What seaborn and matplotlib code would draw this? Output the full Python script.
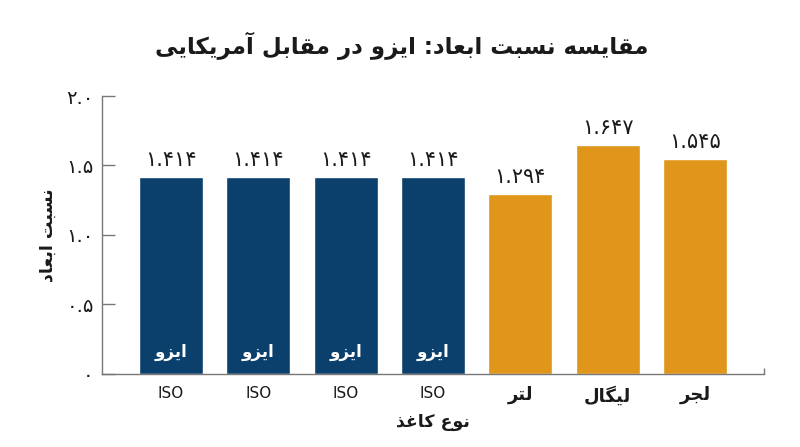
import matplotlib
matplotlib.use("Agg")
import matplotlib.pyplot as plt
import seaborn as sns
import pandas as pd

# ---------------- data ----------------
category_keys = ["ISO-1", "ISO-2", "ISO-3", "ISO-4", "Letter", "Legal", "Ledger"]
tick_labels = ["ISO", "ISO", "ISO", "ISO", "لتر", "لیگال", "لجر"]
groups = ["ISO", "ISO", "ISO", "ISO", "US", "US", "US"]
ratios = [1.414, 1.414, 1.414, 1.414, 1.294, 1.647, 1.545]
inbar_labels = ["ایزو", "ایزو", "ایزو", "ایزو", "", "", ""]
y_ticks = [0, 0.5, 1.0, 1.5, 2.0]
y_tick_labels = ["0", "0.5", "1.0", "1.5", "2.0"]

title_text = "مقایسه نسبت ابعاد: ایزو در مقابل آمریکایی"
ylabel_text = "نسبت ابعاد"
xlabel_text = "نوع کاغذ"

BLUE = "#0b3f6c"
ORANGE = "#e0951b"
TEXT = "#1a1a1a"
AXIS = "#777777"

# ---------------- minimal Arabic/Persian shaping ----------------
FORMS = {
    "ا": ("\uFE8D", "\uFE8E", None, None),
    "آ": ("\uFE81", "\uFE82", None, None),
    "ب": ("\uFE8F", "\uFE90", "\uFE91", "\uFE92"),
    "ت": ("\uFE95", "\uFE96", "\uFE97", "\uFE98"),
    "ج": ("\uFE9D", "\uFE9E", "\uFE9F", "\uFEA0"),
    "د": ("\uFEA9", "\uFEAA", None, None),
    "ذ": ("\uFEAB", "\uFEAC", None, None),
    "ر": ("\uFEAD", "\uFEAE", None, None),
    "ز": ("\uFEAF", "\uFEB0", None, None),
    "س": ("\uFEB1", "\uFEB2", "\uFEB3", "\uFEB4"),
    "ع": ("\uFEC9", "\uFECA", "\uFECB", "\uFECC"),
    "غ": ("\uFECD", "\uFECE", "\uFECF", "\uFED0"),
    "ق": ("\uFED5", "\uFED6", "\uFED7", "\uFED8"),
    "ل": ("\uFEDD", "\uFEDE", "\uFEDF", "\uFEE0"),
    "م": ("\uFEE1", "\uFEE2", "\uFEE3", "\uFEE4"),
    "ن": ("\uFEE5", "\uFEE6", "\uFEE7", "\uFEE8"),
    "ه": ("\uFEE9", "\uFEEA", "\uFEEB", "\uFEEC"),
    "و": ("\uFEED", "\uFEEE", None, None),
    "ی": ("\uFBFC", "\uFBFD", "\uFBFE", "\uFBFF"),
    "ک": ("\uFB8E", "\uFB8F", "\uFB90", "\uFB91"),
    "گ": ("\uFB92", "\uFB93", "\uFB94", "\uFB95"),
}


def dual(c):
    return c in FORMS and FORMS[c][2] is not None


def shape(text):
    out = []
    n = len(text)
    for i, c in enumerate(text):
        if c not in FORMS:
            out.append(c)
            continue
        prev_c = text[i - 1] if i > 0 else ""
        next_c = text[i + 1] if i + 1 < n else ""
        join_prev = dual(prev_c)
        join_next = dual(c) and next_c in FORMS
        iso, fin, ini, med = FORMS[c]
        if join_prev and join_next:
            out.append(med)
        elif join_prev:
            out.append(fin)
        elif join_next:
            out.append(ini)
        else:
            out.append(iso)
    return "".join(reversed(out))


FA_DIGITS = str.maketrans("0123456789", "۰۱۲۳۴۵۶۷۸۹")


def fa_num(s):
    return s.translate(FA_DIGITS)


# ---------------- plot ----------------
sns.set_theme(style="white")
plt.rcParams["font.family"] = ["DejaVu Sans"]

df = pd.DataFrame({"key": category_keys, "ratio": ratios, "group": groups})

fig = plt.figure(figsize=(8.0, 4.47), dpi=100)
ax = fig.add_axes([0.1275, 0.1644, 0.8275, 0.6208])

sns.barplot(
    data=df, x="key", y="ratio", hue="group",
    palette={"ISO": BLUE, "US": ORANGE},
    dodge=False, width=0.73, saturation=1, legend=False, ax=ax,
)

xmin, xmax = -0.79, 6.79
ax.set_xlim(xmin, xmax)
ax.set_ylim(0, 2.0)

# value labels
for i, v in enumerate(ratios):
    ax.annotate(fa_num(f"{v:.3f}"), (i, v), xytext=(0, 5), textcoords="offset points",
                ha="center", va="bottom", fontsize=15, color=TEXT)

# in-bar labels
for i, lab in enumerate(inbar_labels):
    if lab:
        ax.annotate(shape(lab), (i, 0), xytext=(0, 9), textcoords="offset points",
                    ha="center", va="bottom", fontsize=12, fontweight="bold", color="white")

# y axis
ax.set_yticks(y_ticks)
ax.set_yticklabels([fa_num(t) for t in y_tick_labels], fontsize=14, color=TEXT)
ax.tick_params(axis="y", direction="in", length=9.5, width=1, color=AXIS, pad=6, left=True)

# x axis
ax.set_xticks(range(len(category_keys)))
ax.set_xticklabels([lab if lab == "ISO" else shape(lab) for lab in tick_labels],
                   fontsize=11, color=TEXT)
for lbl, raw in zip(ax.get_xticklabels(), tick_labels):
    if raw != "ISO":
        lbl.set_fontweight("bold")
        lbl.set_fontsize(13)
ax.tick_params(axis="x", which="major", length=0, pad=9)
# outer end tick of the x domain (points inward)
ax.set_xticks([xmax], minor=True)
ax.tick_params(axis="x", which="minor", direction="in", length=4, width=1,
               color=AXIS, bottom=True, labelbottom=False)
ax.set_xlabel("")
ax.set_ylabel("")

for side in ["top", "right"]:
    ax.spines[side].set_visible(False)
for side in ["left", "bottom"]:
    ax.spines[side].set_color(AXIS)
    ax.spines[side].set_linewidth(1)

fig.text(0.5015, 0.897, shape(title_text), ha="center", va="center",
         fontsize=16.5, fontweight="bold", color=TEXT)
fig.text(0.06, 0.474, shape(ylabel_text), ha="center", va="center", rotation=90,
         fontsize=12.5, fontweight="bold", color=TEXT)
fig.text(0.541, 0.056, shape(xlabel_text), ha="center", va="center",
         fontsize=12.5, fontweight="bold", color=TEXT)

fig.savefig("out.png", dpi=100)
